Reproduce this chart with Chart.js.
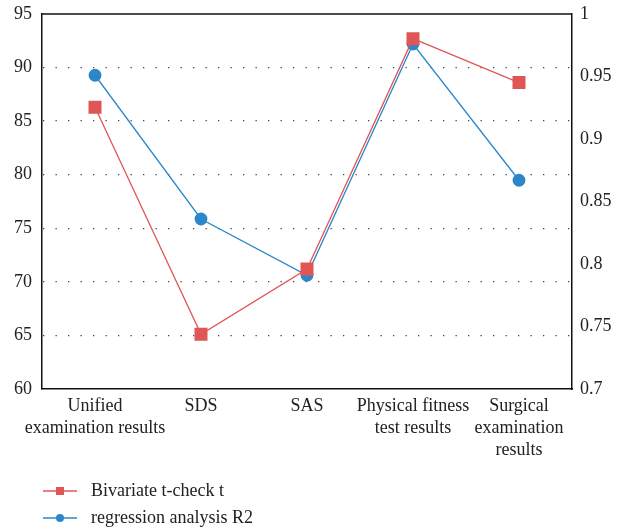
<!DOCTYPE html>
<html>
<head>
<meta charset="utf-8">
<script src="https://cdn.jsdelivr.net/npm/chart.js@4"></script>
<style>
  html, body { margin: 0; padding: 0; background: #fff; }
  #wrap { width: 624px; height: 531px; }
</style>
</head>
<body>
<div id="wrap"><canvas id="chartLinhas" width="624" height="531"></canvas></div>
<script>
const categorias = [
  ['Unified', 'examination results'],
  'SDS',
  'SAS',
  ['Physical fitness', 'test results'],
  ['Surgical', 'examination', 'results']
];
const tCheck = [86.3, 65.1, 71.2, 92.7, 88.6];
const r2 = [0.951, 0.836, 0.791, 0.976, 0.867];
const nomes = ['Bivariate t-check t', 'regression analysis R2'];

const vermelho = '#e05656';
const azul = '#2b87c9';
const fonte = "'Liberation Serif', 'DejaVu Serif', serif";

// moldura superior + legenda desenhada à mão (linha + marcador)
const extras = {
  id: 'extras',
  afterDraw(chart) {
    const c = chart.ctx;
    const a = chart.chartArea;
    c.save();
    c.strokeStyle = '#111';
    c.lineWidth = 1.5;
    c.beginPath();
    c.moveTo(a.left, a.top);
    c.lineTo(a.right, a.top);
    c.stroke();

    const itens = [
      { y: 491, cor: vermelho, tipo: 'rect' },
      { y: 518, cor: azul, tipo: 'circle' }
    ];
    c.font = '18px ' + fonte;
    c.textBaseline = 'middle';
    itens.forEach((it, i) => {
      c.strokeStyle = it.cor;
      c.lineWidth = 1.5;
      c.beginPath();
      c.moveTo(43, it.y);
      c.lineTo(77, it.y);
      c.stroke();
      c.fillStyle = it.cor;
      if (it.tipo === 'rect') {
        c.fillRect(56, it.y - 4, 8, 8);
      } else {
        c.beginPath();
        c.arc(60, it.y, 4, 0, Math.PI * 2);
        c.fill();
      }
      c.fillStyle = '#222';
      c.fillText(nomes[i], 91, it.y);
    });
    c.restore();
  }
};

const semPadding = (s, w) => {
  s.width = w;
  s.paddingTop = 0;
  s.paddingBottom = 0;
};

const ctx = document.getElementById('chartLinhas').getContext('2d');
new Chart(ctx, {
  type: 'line',
  data: {
    labels: categorias,
    datasets: [{
      label: nomes[0],
      data: tCheck,
      yAxisID: 'y',
      borderColor: vermelho,
      backgroundColor: vermelho,
      borderWidth: 1.3,
      pointStyle: 'rect',
      pointRadius: 9.2,
      pointHoverRadius: 9.2,
      pointBorderWidth: 0
    }, {
      label: nomes[1],
      data: r2,
      yAxisID: 'y1',
      borderColor: azul,
      backgroundColor: azul,
      borderWidth: 1.3,
      pointStyle: 'circle',
      pointRadius: 6.4,
      pointHoverRadius: 6.4,
      pointBorderWidth: 0
    }]
  },
  options: {
    responsive: false,
    animation: false,
    layout: { padding: { top: 14, left: 0, right: 0, bottom: 0 } },
    plugins: {
      legend: { display: false },
      tooltip: { enabled: false }
    },
    scales: {
      x: {
        offset: true,
        grid: { display: false, drawTicks: false },
        border: { display: true, color: '#111', width: 1.5 },
        ticks: {
          color: '#222',
          font: { family: fonte, size: 18, lineHeight: 1.22 },
          padding: 6,
          maxRotation: 0,
          autoSkip: false
        },
        afterFit(s) { s.height = 142; s.paddingLeft = 0; s.paddingRight = 0; }
      },
      y: {
        position: 'left',
        min: 60,
        max: 95,
        ticks: {
          stepSize: 5,
          color: '#222',
          font: { family: fonte, size: 18 },
          padding: 10
        },
        grid: {
          drawTicks: false,
          color: (c) => (c.tick && (c.tick.value === 60 || c.tick.value === 95)) ? 'rgba(0,0,0,0)' : '#444',
          lineWidth: 1.3
        },
        border: { display: true, color: '#111', width: 1.5, dash: [1.3, 11.2], dashOffset: -13 },
        afterFit(s) { semPadding(s, 42); }
      },
      y1: {
        position: 'right',
        min: 0.7,
        max: 1,
        ticks: {
          stepSize: 0.05,
          color: '#222',
          font: { family: fonte, size: 18 },
          padding: 8,
          callback: (v) => Number(v.toFixed(2)).toString()
        },
        grid: { display: false, drawTicks: false },
        border: { display: true, color: '#111', width: 1.5 },
        afterFit(s) { semPadding(s, 52); }
      }
    }
  },
  plugins: [extras]
});
</script>
</body>
</html>
